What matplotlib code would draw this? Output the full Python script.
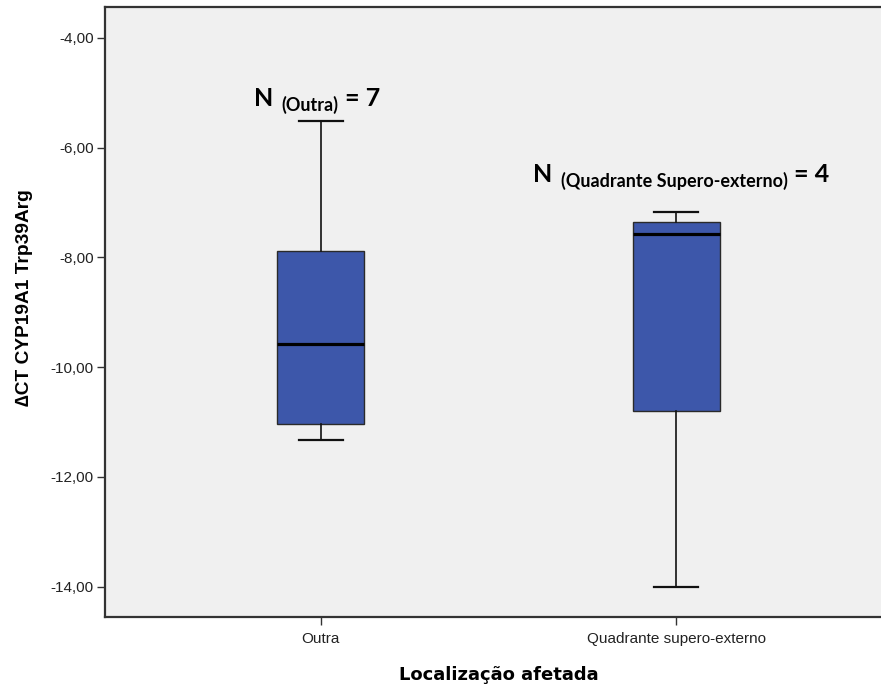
import numpy as np
import matplotlib
matplotlib.use("Agg")
import matplotlib.pyplot as plt
from matplotlib.ticker import FixedLocator, FixedFormatter

# data
groups = ["Outra", "Quadrante supero-externo"]
whis_lo = [-11.33, -14.00]
q1 = [-11.04, -10.80]
med = [-9.58, -7.57]
q3 = [-7.88, -7.35]
whis_hi = [-5.51, -7.17]
n_labels = [("N", "(Outra)", "= 7"), ("N", "(Quadrante Supero-externo)", "= 4")]

yticks = [-14, -12, -10, -8, -6, -4]
ytick_labels = ["-14,00", "-12,00", "-10,00", "-8,00", "-6,00", "-4,00"]

fig = plt.figure(figsize=(8.81, 6.84), dpi=100)
ax = fig.add_axes([105/881, 67/684, 787/881, 610/684])
ax.set_facecolor("#f0f0f0")

stats = []
for i, g in enumerate(groups):
    stats.append(dict(label=g, whislo=whis_lo[i], q1=q1[i], med=med[i], q3=q3[i], whishi=whis_hi[i]))

ax.bxp(stats, positions=[0, 1], widths=0.245, capwidths=0.124, showfliers=False,
       patch_artist=True,
       boxprops=dict(facecolor="#3d57aa", edgecolor="#2a2a2a", linewidth=1.0),
       medianprops=dict(color="black", linewidth=2.3),
       whiskerprops=dict(color="#111111", linewidth=1.2),
       capprops=dict(color="#111111", linewidth=1.6))

ax.set_xlim(-0.608, 1.608)
ax.set_ylim(-14.55, -3.44)

ax.yaxis.set_major_locator(FixedLocator(yticks))
ax.yaxis.set_major_formatter(FixedFormatter(ytick_labels))
ax.set_xticks([0, 1])
ax.set_xticklabels(groups)

for lab in ax.get_xticklabels() + ax.get_yticklabels():
    lab.set_fontfamily("Liberation Sans")
    lab.set_fontsize(11)
    lab.set_color("#222222")
ax.tick_params(axis="both", direction="out", length=6, width=1, color="#333333", pad=2)
ax.tick_params(axis="x", pad=5)

for s in ["top", "left", "bottom", "right"]:
    ax.spines[s].set_color("#333333")
    ax.spines[s].set_linewidth(1.6)

ax.set_ylabel("\u2206CT CYP19A1 Trp39Arg", fontfamily="Liberation Sans", fontweight="bold",
              fontsize=13.8)
ax.yaxis.set_label_coords(-0.091, 0.523)
ax.set_xlabel("Localização afetada", fontfamily="DejaVu Sans", fontweight="bold",
              fontsize=13, labelpad=14)

# N annotations, built from chained pieces
anchors = [(-0.189, -5.24), (0.597, -6.62)]
for (big, sub, eq), (x0, y0) in zip(n_labels, anchors):
    t = ax.text(x0, y0, big, fontfamily="Lato", fontweight="bold", fontsize=18,
                ha="left", va="baseline")
    t2 = ax.annotate(sub, xy=(1, 0), xycoords=t, xytext=(6, -3), textcoords="offset points",
                     fontfamily="Lato", fontweight="bold", fontsize=13, ha="left", va="bottom")
    ax.annotate(eq, xy=(1, 0), xycoords=t2, xytext=(5, 3), textcoords="offset points",
                fontfamily="Lato", fontweight="bold", fontsize=18, ha="left", va="bottom")

fig.savefig("out.png", dpi=100)
